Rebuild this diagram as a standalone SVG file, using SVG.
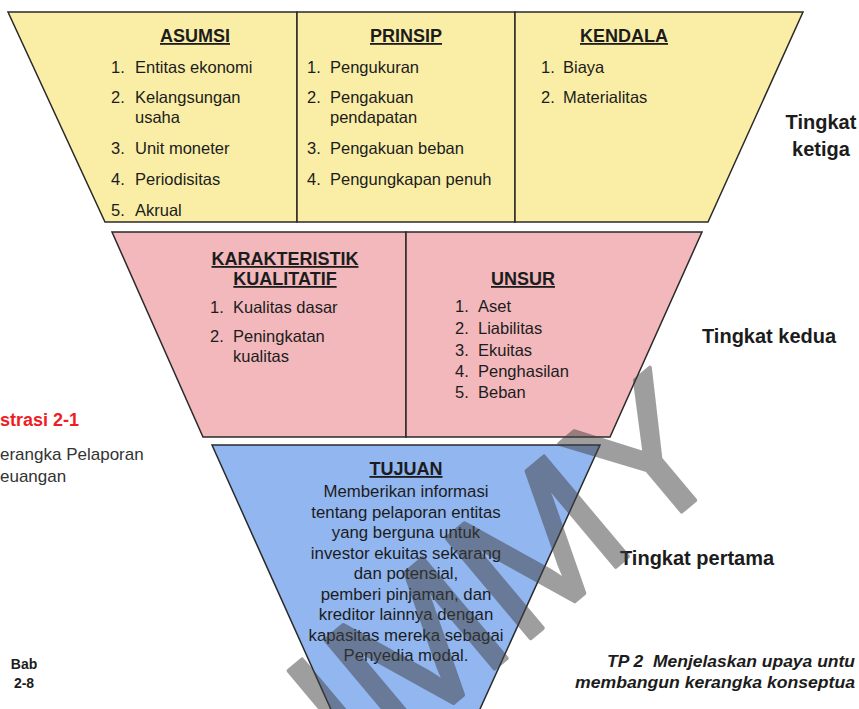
<svg xmlns="http://www.w3.org/2000/svg" width="859" height="709" viewBox="0 0 859 709">
<style>
.cell{stroke:#2a2a2a;stroke-width:1.5;stroke-linejoin:miter}
.y{fill:#FAEEA6}.p{fill:#F3B8BC}.b{fill:#92B6F0}
text{font-family:"Liberation Sans",Arial,sans-serif;fill:#1c1c1c}
.h{font-size:18px;font-weight:bold;text-anchor:middle;text-decoration:underline}
.i{font-size:16.5px}
.t{font-size:16.8px;text-anchor:middle}
.lv{font-size:20px;font-weight:bold}
.tp{font-size:17px;font-weight:bold;font-style:italic}
</style>
<rect width="859" height="709" fill="#ffffff"/>
<g id="tier3-asumsi">
<polygon class="cell y" points="8,12 297,12 297,222 105,222"/>
<text class="h" x="195" y="42">ASUMSI</text>
<text class="i" x="111" y="73">1.</text><text class="i" x="135" y="73">Entitas ekonomi</text>
<text class="i" x="111" y="103">2.</text><text class="i" x="135" y="103">Kelangsungan</text>
<text class="i" x="135" y="123">usaha</text>
<text class="i" x="111" y="154">3.</text><text class="i" x="135" y="154">Unit moneter</text>
<text class="i" x="111" y="185">4.</text><text class="i" x="135" y="185">Periodisitas</text>
<text class="i" x="111" y="216">5.</text><text class="i" x="135" y="216">Akrual</text>
</g>
<g id="tier3-prinsip">
<rect class="cell y" x="297" y="12" width="218" height="210"/>
<text class="h" x="406" y="42">PRINSIP</text>
<text class="i" x="307" y="73">1.</text><text class="i" x="330" y="73">Pengukuran</text>
<text class="i" x="307" y="103">2.</text><text class="i" x="330" y="103">Pengakuan</text>
<text class="i" x="330" y="123">pendapatan</text>
<text class="i" x="307" y="154">3.</text><text class="i" x="330" y="154">Pengakuan beban</text>
<text class="i" x="307" y="185">4.</text><text class="i" x="330" y="185">Pengungkapan penuh</text>
</g>
<g id="tier3-kendala">
<polygon class="cell y" points="515,12 803,12 708,222 515,222"/>
<text class="h" x="624" y="42">KENDALA</text>
<text class="i" x="541" y="73">1.</text><text class="i" x="563" y="73">Biaya</text>
<text class="i" x="541" y="103">2.</text><text class="i" x="563" y="103">Materialitas</text>
</g>
<g id="tier2-karakteristik">
<polygon class="cell p" points="112,232 406,232 406,437 203,437"/>
<text class="h" x="285" y="265">KARAKTERISTIK</text>
<text class="h" x="285" y="285">KUALITATIF</text>
<text class="i" x="210" y="313">1.</text><text class="i" x="233" y="313">Kualitas dasar</text>
<text class="i" x="210" y="342">2.</text><text class="i" x="233" y="342">Peningkatan</text>
<text class="i" x="233" y="362">kualitas</text>
</g>
<g id="tier2-unsur">
<polygon class="cell p" points="406,232 702,232 610,437 406,437"/>
<text class="h" x="523" y="285">UNSUR</text>
<text class="i" x="455" y="312">1.</text><text class="i" x="478" y="312">Aset</text>
<text class="i" x="455" y="334">2.</text><text class="i" x="478" y="334">Liabilitas</text>
<text class="i" x="455" y="356">3.</text><text class="i" x="478" y="356">Ekuitas</text>
<text class="i" x="455" y="377">4.</text><text class="i" x="478" y="377">Penghasilan</text>
<text class="i" x="455" y="398">5.</text><text class="i" x="478" y="398">Beban</text>
</g>
<g id="tier1-tujuan">
<polygon class="cell b" points="212,445 600,445 405,874"/>
<text class="h" x="406" y="475">TUJUAN</text>
<text class="t" x="406" y="497">Memberikan informasi</text>
<text class="t" x="406" y="517.5">tentang pelaporan entitas</text>
<text class="t" x="406" y="538">yang berguna untuk</text>
<text class="t" x="406" y="558.5">investor ekuitas sekarang</text>
<text class="t" x="406" y="579">dan potensial,</text>
<text class="t" x="406" y="599.5">pemberi pinjaman, dan</text>
<text class="t" x="406" y="620">kreditor lainnya dengan</text>
<text class="t" x="406" y="640.5">kapasitas mereka sebagai</text>
<text class="t" x="406" y="661">Penyedia modal.</text>
</g>
<g id="connectors"></g>
<g id="labels">
<text class="lv" x="821" y="129" text-anchor="middle">Tingkat</text>
<text class="lv" x="821" y="156" text-anchor="middle">ketiga</text>
<text class="lv" x="702" y="343">Tingkat kedua</text>
<text class="lv" x="620" y="565">Tingkat pertama</text>
<text x="0" y="426" style="font-size:18px;font-weight:bold;fill:#ee1c24">strasi 2-1</text>
<text x="0" y="460" style="font-size:17px;fill:#333333">erangka Pelaporan</text>
<text x="0" y="482" style="font-size:17px;fill:#333333">euangan</text>
<text x="24" y="669" text-anchor="middle" style="font-size:14px;font-weight:bold">Bab</text>
<text x="24" y="688" text-anchor="middle" style="font-size:14px;font-weight:bold">2-8</text>
<text class="tp" x="607" y="667" textLength="248" lengthAdjust="spacingAndGlyphs">TP 2&#160; Menjelaskan upaya untu</text>
<text class="tp" x="575" y="688" textLength="280" lengthAdjust="spacingAndGlyphs">membangun kerangka konseptua</text>
</g>
<g id="watermark" opacity="0.5">
<text x="737" y="465" text-anchor="end" transform="rotate(-40 737 465)" style="font-size:190px;fill:#404040;stroke:#404040;stroke-width:4;stroke-linejoin:round">DUMMY</text>
</g>
</svg>
